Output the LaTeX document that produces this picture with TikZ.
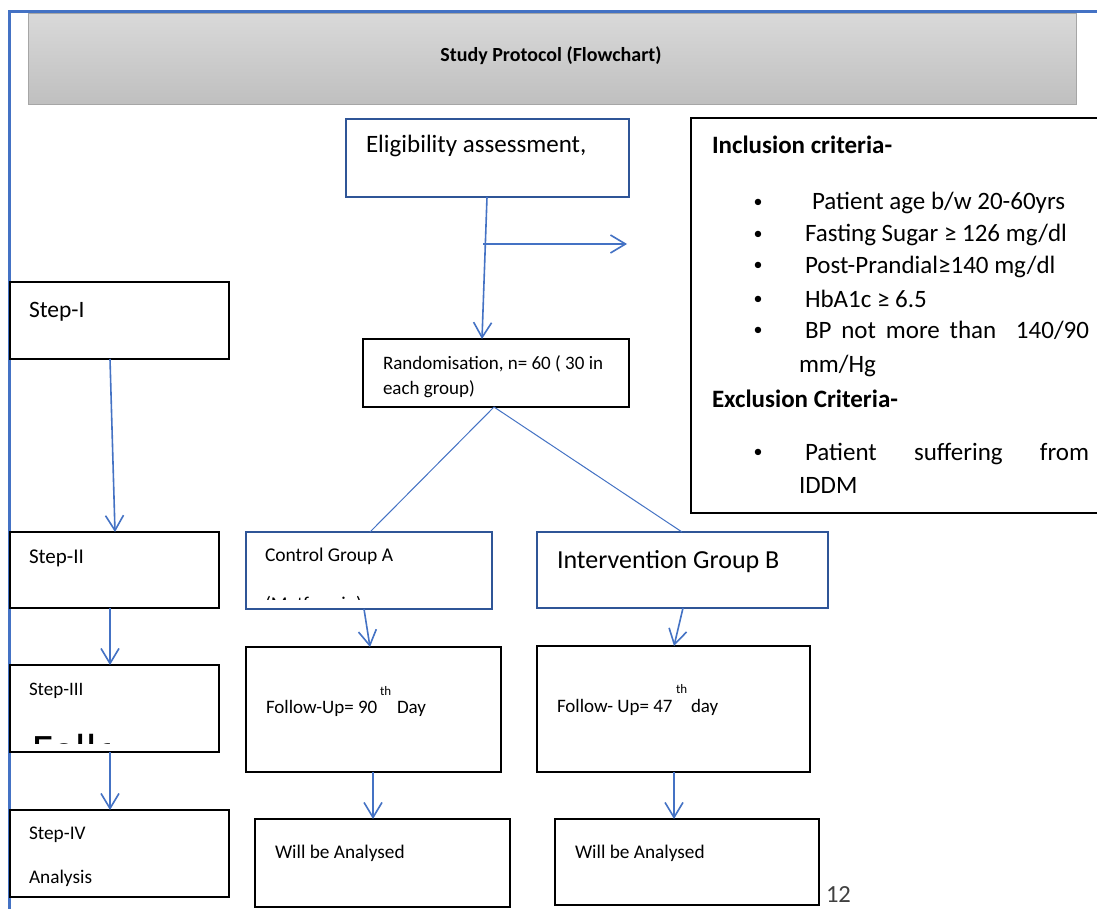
\documentclass[tikz,border=0pt]{standalone}
\usepackage{fontspec}
\setmainfont{Carlito}
\usetikzlibrary{arrows.meta}
\definecolor{pageblue}{HTML}{4472C4}
\definecolor{boxblue}{HTML}{2F5597}
\definecolor{arrblue}{HTML}{4472C4}
\definecolor{greytop}{HTML}{D9D9D9}
\definecolor{greybot}{HTML}{BFBFBF}
\definecolor{greyline}{HTML}{A6A6A6}
\definecolor{numgrey}{HTML}{404040}
\newcommand{\sz}[1]{\fontsize{#1}{#1}\selectfont}
\begin{document}
\begin{tikzpicture}[x=1pt,y=-1pt,
  bbox/.style={draw=black, line width=2.5pt, anchor=north west, inner sep=0pt, outer sep=0pt},
  ubox/.style={draw=boxblue, line width=2pt, anchor=north west, inner sep=0pt, outer sep=0pt},
  txt/.style={anchor=base west, inner sep=0pt, outer sep=0pt},
  bul/.style={anchor=center, inner sep=0pt, outer sep=0pt, font=\sz{18}},
  arr/.style={draw=arrblue, line width=1.6pt, -{Straight Barb[length=15pt,width=18pt,line width=1.6pt]}},
  ln/.style={draw=arrblue, line width=1pt}]
\useasboundingbox (0,0) rectangle (1097,909);
\fill[white] (0,0) rectangle (1097,909);
% page frame
\draw[pageblue, line width=3pt] (9,909) -- (9,12) -- (1097,12);
% title bar
\node[anchor=north west, minimum width=1048pt, minimum height=91pt, inner sep=0pt, outer sep=0pt,
  top color=greytop, bottom color=greybot, draw=greyline, line width=1pt] (title) at (28,14) {};
\node[anchor=base, inner sep=0pt] (titletxt) at (551,62) {\sz{20}\bfseries Study Protocol (Flowchart)};
% boxes
\node[ubox, minimum width=283pt, minimum height=78pt] (elig) at (346,119) {};
\node[bbox, minimum width=409pt, minimum height=395pt] (incl) at (691,118) {};
\node[bbox, minimum width=266pt, minimum height=68pt] (rand) at (363,339) {};
\node[bbox, minimum width=219pt, minimum height=77pt] (step1) at (10,282) {};
\node[bbox, minimum width=209pt, minimum height=76pt] (step2) at (10,532) {};
\node[bbox, minimum width=209pt, minimum height=87pt] (step3) at (10,665) {};
\node[bbox, minimum width=219pt, minimum height=87pt] (step4) at (10,810) {};
\node[ubox, minimum width=246pt, minimum height=77pt] (ctrl) at (246,532) {};
\node[ubox, minimum width=291pt, minimum height=76pt] (intv) at (537,532) {};
\node[bbox, minimum width=255pt, minimum height=125pt] (fupA) at (246,647) {};
\node[bbox, minimum width=273pt, minimum height=126pt] (fupB) at (537,646) {};
\node[bbox, minimum width=255pt, minimum height=88pt] (anaA) at (255,819) {};
\node[bbox, minimum width=264pt, minimum height=86pt] (anaB) at (555,819) {};
% texts
\node[txt] (t-elig) at (366,153) {\sz{25}Eligibility assessment,};
\node[txt] (t-inc) at (712,154) {\sz{25}\bfseries Inclusion criteria-};
\node[bul] (b1) at (758,203) {•};
\node[txt] (i1) at (812,210) {\sz{25}Patient age b/w 20-60yrs};
\node[bul] (b2) at (758,235) {•};
\node[txt] (i2) at (805,242) {\sz{25}Fasting Sugar ≥ 126 mg/dl};
\node[bul] (b3) at (758,266) {•};
\node[txt] (i3) at (805,273) {\sz{25}Post-Prandial≥140 mg/dl};
\node[bul] (b4) at (758,300) {•};
\node[txt] (i4) at (805,307) {\sz{25}HbA1c ≥ 6.5};
\node[bul] (b5) at (758,331) {•};
\node[txt] (i5) at (805,338) {\sz{25}\makebox[284pt][s]{BP not more than\ \ 140/90}};
\node[txt] (i5b) at (799,372) {\sz{25}mm/Hg};
\node[txt] (t-exc) at (712,407) {\sz{25}\bfseries Exclusion Criteria-};
\node[bul] (b6) at (758,453) {•};
\node[txt] (e1) at (805,460) {\sz{25}\makebox[284pt][s]{Patient suffering from}};
\node[txt] (e1b) at (799,493) {\sz{25}IDDM};
\node[txt] (t-rand1) at (383,369) {\sz{19}Randomisation, n= 60 ( 30 in};
\node[txt] (t-rand2) at (383,394) {\sz{19}each group)};
\node[txt] (t-s1) at (29,317) {\sz{23.5}Step-I};
\node[txt] (t-s2) at (29,563) {\sz{21}Step-II};
\node[txt] (t-s3) at (29,695) {\sz{19}Step-III};
\begin{scope}
  \clip (12,700) rectangle (109,743.6);
  \node[txt] (t-s3b) at (32,765) {\sz{45}Follow};
\end{scope}
\node[txt] (t-s4) at (29,839) {\sz{19.3}Step-IV};
\node[txt] (t-s4b) at (29,883) {\sz{19.3}Analysis};
\node[txt] (t-ctrl) at (265,561) {\sz{19.5}Control Group A};
\begin{scope}
  \clip (248,570) rectangle (490,599.5);
  \node[txt] (t-ctrl2) at (265,610) {\sz{19.5}(Metformin)};
\end{scope}
\node[txt] (t-intv) at (557,568) {\sz{26}Intervention Group B};
\node[txt] (t-fa) at (266,713) {\sz{19}Follow-Up= 90};
\node[txt] (t-fath) at (380,695) {\sz{13}th};
\node[txt] (t-faday) at (397,713) {\sz{19}Day};
\node[txt] (t-fb) at (557,712) {\sz{19}Follow- Up= 47};
\node[txt] (t-fbth) at (676,693) {\sz{13}th};
\node[txt] (t-fbday) at (691,712) {\sz{19}day};
\node[txt] (t-aa) at (275,858) {\sz{19.3}Will be Analysed};
\node[txt] (t-ab) at (575,858) {\sz{19.3}Will be Analysed};
\node[txt, text=numgrey] (pagenum) at (826,902) {\sz{24.6}12};
% connectors
\draw[arr] ([xshift=141pt]elig.south west) -- ([xshift=119pt]rand.north west);
\coordinate (brs) at (483,244);
\coordinate (bre) at (627,244);
\draw[arr] (brs) -- (bre);
\draw[arr] ([xshift=100pt]step1.south west) -- ([xshift=105pt]step2.north west);
\draw[arr] ([xshift=100pt]step2.south west) -- ([xshift=100pt]step3.north west);
\draw[arr] ([xshift=100pt]step3.south west) -- ([xshift=100pt]step4.north west);
\draw[ln] ([xshift=131pt]rand.south west) -- ([xshift=124pt]ctrl.north west);
\draw[ln] ([xshift=131pt]rand.south west) -- ([xshift=145pt]intv.north west);
\draw[arr] ([xshift=118pt]ctrl.south west) -- ([xshift=124pt]fupA.north west);
\draw[arr] ([xshift=146pt]intv.south west) -- ([xshift=137pt]fupB.north west);
\draw[arr] ([xshift=127pt]fupA.south west) -- ([xshift=118pt]anaA.north west);
\draw[arr] ([xshift=137pt]fupB.south west) -- ([xshift=119pt]anaB.north west);
\end{tikzpicture}
\end{document}
